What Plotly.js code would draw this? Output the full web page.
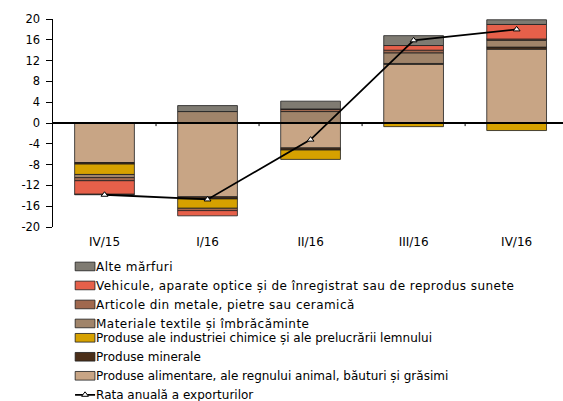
<!DOCTYPE html>
<html>
<head>
<meta charset="utf-8">
<script src="https://cdn.plot.ly/plotly-3.0.1.min.js"></script>
<style>
html,body{margin:0;padding:0;background:#fff;overflow:hidden;}
#chart{width:563px;height:401px;}
#chart .legendtext{letter-spacing:0.45px;}
</style>
</head>
<body>
<div id="chart"></div>
<script>
// ---- data ----
const categories = ["IV/15", "I/16", "II/16", "III/16", "IV/16"];
const food      = [-7.6, -14.2, -4.8, 11.3, 14.2];
const mineral   = [-0.3, -0.4, -0.4, 0.15, 0.4];
const chemical  = [-2.0, -1.8, -1.8, -0.7, -1.45];
const textiles  = [-0.6, 2.2, 2.2, 2.05, 1.3];
const metals    = [-0.6, -0.45, 0.4, 0.5, 0.25];
const vehicles  = [-2.6, -1.0, 0.1, 0.9, 2.8];
const others    = [-0.1, 1.15, 1.5, 1.9, 0.9];
const exportRate = [-13.8, -14.7, -3.2, 15.9, 18.0];
const yTicks = [-20, -16, -12, -8, -4, 0, 4, 8, 12, 16, 20];

const names = {
  others: "Alte mărfuri",
  vehicles: "Vehicule, aparate optice și de înregistrat sau de reprodus sunete",
  metals: "Articole din metale, pietre sau ceramică",
  textiles: "Materiale textile și îmbrăcăminte",
  chemical: "Produse ale industriei chimice și ale prelucrării lemnului",
  mineral: "Produse minerale",
  food: "Produse alimentare, ale regnului animal, băuturi și grăsimi",
  rate: "Rata anuală a exporturilor"
};

const FONT = "'DejaVu Sans', sans-serif";
const edge = {color: "#1e1e1e", width: 0.8};

function bar(vals, name, color, rank, leg) {
  return {type: "bar", x: categories, y: vals, name: name, legendrank: rank, legend: leg,
    marker: {color: color, line: edge}, hoverinfo: "skip"};
}

const traces = [
  bar(food, names.food, "#c8a585", 7, "legend2"),
  bar(mineral, names.mineral, "#4b2f19", 6, "legend2"),
  bar(chemical, names.chemical, "#d6a100", 5, "legend2"),
  bar(textiles, names.textiles, "#a0846a", 4, "legend"),
  bar(metals, names.metals, "#a0684e", 3, "legend"),
  bar(vehicles, names.vehicles, "#e6604a", 2, "legend"),
  bar(others, names.others, "#7f7b72", 1, "legend"),
  {type: "scatter", mode: "lines+markers", x: categories, y: exportRate,
   name: names.rate, legendrank: 8, legend: "legend2",
   line: {color: "#000", width: 1.8},
   marker: {symbol: "triangle-up", size: 6, color: "#fff", line: {color: "#000", width: 1}}}
];

const shapes = [
  {type: "line", xref: "paper", yref: "y", x0: 0, x1: 1, y0: 0, y1: 0,
   line: {color: "#000", width: 2}, layer: "above"}
];
for (let i = 0; i < categories.length - 1; i++) {
  shapes.push({type: "line", xref: "x", yref: "y", x0: i + 0.5, x1: i + 0.5,
    y0: 0, y1: -0.6, line: {color: "#000", width: 1}, layer: "above"});
}

const legendBase = {x: 0.006, xanchor: "left", yanchor: "top",
    orientation: "v", traceorder: "normal",
    font: {family: FONT, size: 12, color: "#000"},
    bgcolor: "rgba(0,0,0,0)", itemwidth: 30, tracegroupgap: 0};

const layout = {
  width: 563, height: 401,
  margin: {l: 53, r: 0, t: 19, b: 174, pad: 0, autoexpand: false},
  paper_bgcolor: "#fff", plot_bgcolor: "#fff",
  font: {family: FONT, size: 11, color: "#000"},
  barmode: "relative",
  bargap: 0.42,
  showlegend: true,
  legend: Object.assign({}, legendBase, {y: -0.120}),
  legend2: Object.assign({}, legendBase, {y: -0.463}),
  xaxis: {type: "category", range: [-0.5, 4.45], showgrid: false, zeroline: false,
    showline: false, ticks: "outside", ticklen: 4, tickcolor: "rgba(0,0,0,0)",
    tickfont: {family: FONT, size: 12}, fixedrange: true},
  yaxis: {range: [-20, 20], tickvals: yTicks, ticktext: yTicks.map(String),
    showgrid: false, zeroline: false, showline: true, linecolor: "#000", linewidth: 1.5,
    ticks: "outside", ticklen: 6, tickwidth: 1, tickcolor: "#000",
    ticklabelstandoff: 3,
    tickfont: {family: FONT, size: 11.5}, fixedrange: true},
  shapes: shapes
};

Plotly.newPlot("chart", traces, layout, {displayModeBar: false, staticPlot: true}).then(function (gd) {
  // let the wider legend texts show in full
  gd.querySelectorAll("g.legend, g.legend *").forEach(function (e) {
    if (e.hasAttribute("clip-path")) e.removeAttribute("clip-path");
  });
  // reshape legend keys into the flat rectangles of the original
  gd.querySelectorAll("g.legendpoints path:not(.scatterpts)").forEach(function (p) {
    const t = p.getAttribute("transform") || "";
    p.setAttribute("transform", t + " translate(9,0) scale(1.65,0.72)");
    p.style.vectorEffect = "non-scaling-stroke";
  });
  gd.querySelectorAll("g.legendlines path").forEach(function (p) {
    p.setAttribute("d", "M19,0h20");
  });
  gd.querySelectorAll("g.legendsymbols path.scatterpts").forEach(function (p) {
    const t = p.getAttribute("transform") || "";
    p.setAttribute("transform", t + " translate(9,0)");
  });
});
</script>
</body>
</html>
